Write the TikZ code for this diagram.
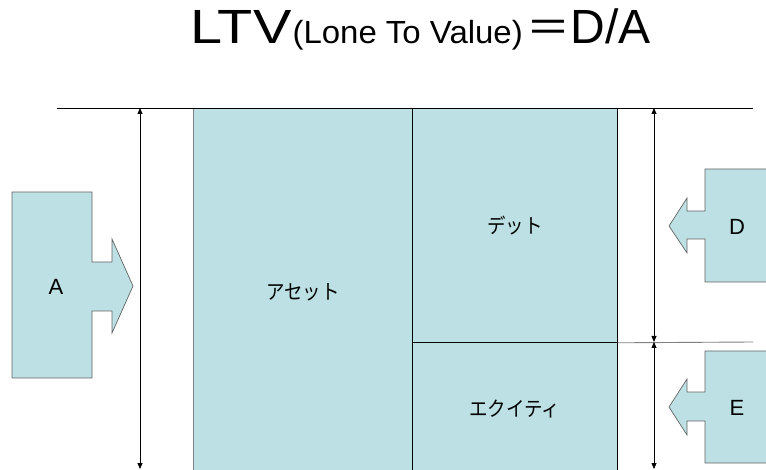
\documentclass[tikz,border=0pt]{standalone}
\usepackage{fontspec}
\setmainfont{Liberation Sans}
\newfontfamily\jpfont{Noto Sans CJK JP}
\usetikzlibrary{arrows.meta}
\definecolor{boxfill}{RGB}{188,224,227}
\definecolor{edgegray}{RGB}{100,100,100}
\definecolor{lightedge}{RGB}{128,128,128}
\newcommand{\jpnarrow}[1]{\scalebox{0.9}[1]{#1}}
\tikzset{
  dimarrow/.style={draw=black, line width=0.8pt, {Triangle[length=6pt,width=5pt]}-{Triangle[length=6pt,width=5pt]}},
  block/.style={fill=boxfill, draw=black, line width=0.8pt, inner sep=0pt, anchor=north west},
  callout/.style={fill=boxfill, draw=edgegray, line width=0.7pt},
  jplabel/.style={font=\jpfont\fontsize{20.5}{24}\selectfont, text=black},
  latlabel/.style={font=\fontsize{22}{26}\selectfont},
}
\begin{document}
\begin{tikzpicture}[x=1pt,y=-1pt]
\clip (0,0) rectangle (766,470);
% title
\node[anchor=base west, inner sep=0pt] (title) at (190,44)
  {\scalebox{1.2}[1]{\fontsize{48}{56}\selectfont LTV}\hspace{1pt}\scalebox{1.03}[1]{\fontsize{32}{38}\selectfont(Lone To Value)}\hspace{4pt}{\jpfont\fontsize{44}{50}\selectfont ＝}{\fontsize{48}{56}\selectfont D/A}};
% balance sheet blocks
\node[block, draw=none, minimum width=219, minimum height=367, jplabel] (asset) at (193,108) {\jpnarrow{アセット}};
\node[block, minimum width=205, minimum height=234, jplabel] (debt) at (412,108) {\jpnarrow{デット}};
\node[block, minimum width=205, minimum height=133, jplabel] (equity) at (412,342) {\jpnarrow{エクイティ}};
\draw[lightedge, line width=0.8pt] (asset.north west) -- (asset.south west);
\draw[black, line width=0.8pt] (asset.north east) -- (asset.south east);
% reference lines
\coordinate (topL) at (57,108);
\coordinate (topR) at (753,108);
\coordinate (midR) at (753,342);
\draw[black, line width=0.9pt] (topL) -- (topR);
\draw[lightedge, line width=0.9pt] (debt.south east) -- (midR);
% dimension arrows
\coordinate (la1) at (140,108);
\coordinate (la2) at (140,469);
\coordinate (ra1) at (654,108);
\coordinate (ra2) at (654,342);
\coordinate (ra3) at (654,469);
\draw[dimarrow] (la1) -- (la2);
\draw[dimarrow] (ra1) -- (ra2);
\draw[dimarrow] (ra2) -- (ra3);
% callout A
\draw[callout] (12,192) -- (92,192) -- (92,262) -- (112,262) -- (112,239) -- (133,286)
  -- (112,333) -- (112,311) -- (92,311) -- (92,378) -- (12,378) -- cycle;
\node[latlabel] (labA) at (56,287) {A};
% callout D
\draw[callout] (780,169) -- (705,169) -- (705,211) -- (687,211) -- (687,198) -- (669,226)
  -- (687,253) -- (687,239) -- (705,239) -- (705,282) -- (780,282);
\node[latlabel] (labD) at (737,227) {D};
% callout E
\draw[callout] (780,351) -- (705,351) -- (705,392) -- (687,392) -- (687,379) -- (669,407)
  -- (687,435) -- (687,421) -- (705,421) -- (705,463) -- (780,463);
\node[latlabel] (labE) at (737,408) {E};
\end{tikzpicture}
\end{document}
